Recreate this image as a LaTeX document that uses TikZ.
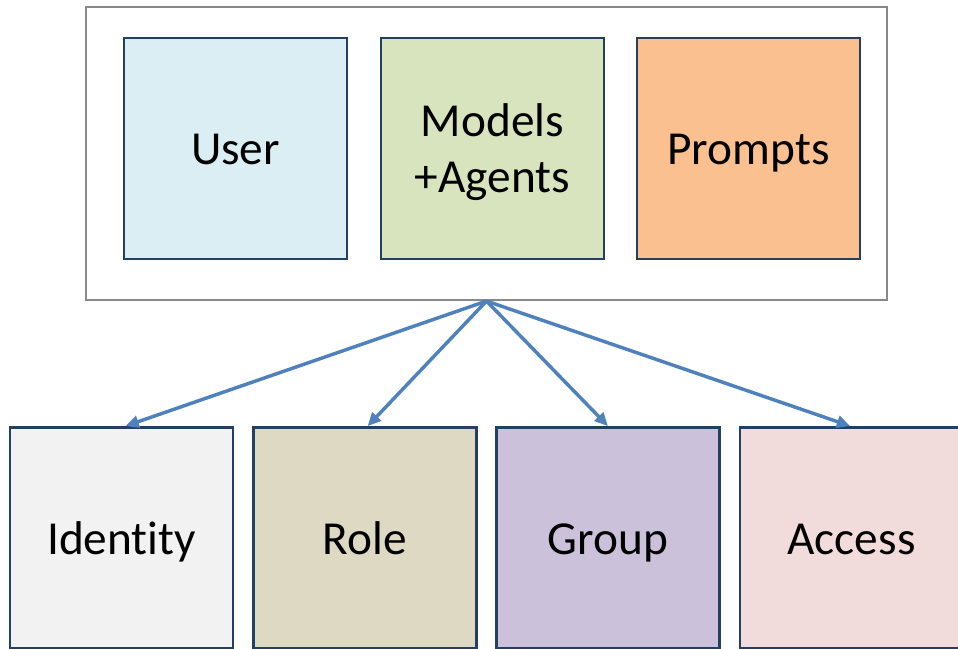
\documentclass[tikz,border=0pt]{standalone}
\usepackage{fontspec}
\setmainfont{Carlito}[Ligatures={NoCommon}]
\usetikzlibrary{arrows.meta}

\definecolor{boxline}{HTML}{243F60}
\definecolor{frameline}{HTML}{898989}
\definecolor{linkblue}{HTML}{4F81BD}
\definecolor{userfill}{HTML}{DAEEF3}
\definecolor{modelfill}{HTML}{D7E4BD}
\definecolor{promptfill}{HTML}{FAC090}
\definecolor{identfill}{HTML}{F2F2F2}
\definecolor{rolefill}{HTML}{DDD9C3}
\definecolor{groupfill}{HTML}{CCC1DA}
\definecolor{accessfill}{HTML}{F2DCDB}

\tikzset{
  tilebox/.style={draw=boxline, line width=1.9pt, minimum width=167pt, minimum height=166pt,
    inner sep=0pt},
  tile/.style={tilebox, font=\fontsize{35.5}{42}\selectfont, text height=26pt, text depth=1.25pt},
  tiletext/.style={inner sep=0pt, align=center, font=\fontsize{35.5}{42}\selectfont},
  frame/.style={draw=frameline, line width=1.6pt, minimum width=600.75pt, minimum height=219.75pt, inner sep=0pt},
  link/.style={draw=linkblue, line width=2.6pt, -{Triangle[length=10pt,width=9pt]}}
}

\begin{document}
\begin{tikzpicture}[x=0.75pt,y=-0.75pt]
  \useasboundingbox (0,0) rectangle (958,649);

  % container with the three upper tiles
  \node[frame] (outer) at (486.5,153.5) {};
  \node[tile, fill=userfill]   (user)    at (235.5,148.5) {User};
  \node[tilebox, fill=modelfill] (models) at (492.5,148.5) {};
  \node[tiletext] (modelslabel) at (492.5,152) {Models\\+Agents};
  \node[tile, fill=promptfill] (prompts) at (748.5,148.5) {Prompts};

  % lower row
  \node[tile, fill=identfill]  (identity) at (121.5,538) {Identity};
  \node[tile, fill=rolefill]   (role)     at (365,538)   {Role};
  \node[tile, fill=groupfill]  (group)    at (608,538)   {Group};
  \node[tile, fill=accessfill] (access)   at (851.5,538) {Access};

  % links from the container to each tile
  \draw[link] (outer.south) -- ([xshift=3pt]identity.north);
  \draw[link] (outer.south) -- ([xshift=2pt]role.north);
  \draw[link] (outer.south) -- (group.north);
  \draw[link] (outer.south) -- ([xshift=-1pt]access.north);
\end{tikzpicture}
\end{document}
